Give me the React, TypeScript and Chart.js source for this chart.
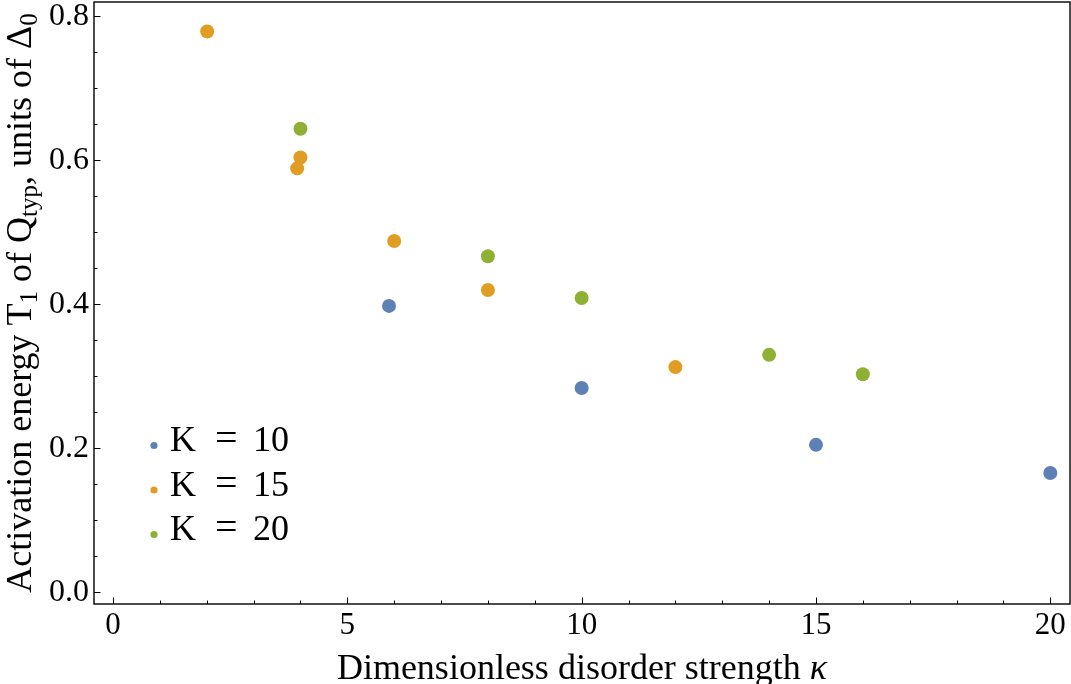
import { useEffect, useRef } from 'react';
import { Chart, registerables } from 'chart.js';

Chart.register(...registerables);

// K = 10
const kappaK10 = [5.89, 10, 15, 20];
const energyK10 = [0.398, 0.284, 0.205, 0.166];
// K = 15
const kappaK15 = [2.01, 3.93, 4.0, 6.0, 8.0, 12.0];
const energyK15 = [0.779, 0.589, 0.604, 0.488, 0.42, 0.313];
// K = 20
const kappaK20 = [4.0, 8.0, 10.0, 14.0, 16.0];
const energyK20 = [0.644, 0.467, 0.409, 0.33, 0.303];

const seriesLabels = ['K = 10', 'K = 15', 'K = 20'];
const seriesColors = ['#5E81B5', '#E19C24', '#8FB032'];

const xTicks = [0, 5, 10, 15, 20];
const yTicks = [0, 0.2, 0.4, 0.6, 0.8];
const xMinorStep = 1;
const yMinorStep = 0.05;

const SERIF = '"Liberation Serif", "Times New Roman", serif';

const toPoints = (xs: number[], ys: number[]) => xs.map((x, i) => ({ x, y: ys[i] }));

// frame, inward ticks, legend and axis titles (Mathematica look)
const framePlugin = {
    id: 'frameDecor',
    afterDraw(chart: any) {
        const { ctx, chartArea } = chart;
        const { left, right, top, bottom } = chartArea;
        const xs = chart.scales.x;
        const ys = chart.scales.y;
        ctx.save();

        // inward tick marks on left and bottom
        ctx.strokeStyle = '#000';
        ctx.lineWidth = 1;
        ctx.beginPath();
        for (let v = Math.ceil(xs.min); v <= xs.max; v += xMinorStep) {
            const px = Math.round(xs.getPixelForValue(v)) + 0.5;
            const len = xTicks.includes(v) ? 6.5 : 3.5;
            ctx.moveTo(px, bottom);
            ctx.lineTo(px, bottom - len);
        }
        for (let i = 0; i * yMinorStep <= ys.max + 1e-9; i++) {
            const v = i * yMinorStep;
            const py = Math.round(ys.getPixelForValue(v)) + 0.5;
            const len = i % 4 === 0 ? 6.5 : 3.5;
            ctx.moveTo(left, py);
            ctx.lineTo(left + len, py);
        }
        ctx.stroke();

        // frame
        ctx.lineWidth = 1.4;
        ctx.strokeRect(left, top, right - left, bottom - top);

        // legend
        chart.data.datasets.forEach((ds: any, i: number) => {
            const cy = 445.5 + i * 44.5;
            ctx.fillStyle = ds.backgroundColor;
            ctx.beginPath();
            ctx.arc(154, cy, 3.6, 0, Math.PI * 2);
            ctx.fill();
            ctx.fillStyle = '#000';
            ctx.textBaseline = 'alphabetic';
            ctx.textAlign = 'left';
            const parts = String(ds.label).split(' ');
            const offs = [0, 45, 83];
            parts.forEach((p: string, j: number) => {
                ctx.font = (p === '=' ? '40px ' : '36px ') + SERIF;
                ctx.fillText(p, 170 + offs[j], cy + 5.5);
            });
        });

        // x title
        ctx.fillStyle = '#000';
        ctx.textBaseline = 'alphabetic';
        ctx.textAlign = 'left';
        const xMain = 'Dimensionless disorder strength ';
        ctx.font = '36px ' + SERIF;
        const w1 = ctx.measureText(xMain).width;
        ctx.font = 'italic 36px ' + SERIF;
        const w2 = ctx.measureText('κ').width;
        const cx = (left + right) / 2;
        const sx = cx - (w1 + w2) / 2;
        ctx.font = '36px ' + SERIF;
        ctx.fillText(xMain, sx, 679);
        ctx.font = 'italic 36px ' + SERIF;
        ctx.fillText('κ', sx + w1, 679);

        // y title with subscripts
        const segs: [string, boolean][] = [
            ['Activation energy T', false],
            ['1', true],
            [' of Q', false],
            ['typ', true],
            [', units of Δ', false],
            ['0', true],
        ];
        const mainFont = '36px ' + SERIF;
        const subFont = '25px ' + SERIF;
        let total = 0;
        const widths = segs.map(([t, sub]) => {
            ctx.font = sub ? subFont : mainFont;
            const w = ctx.measureText(t).width;
            total += w;
            return w;
        });
        ctx.translate(31, (top + bottom) / 2);
        ctx.rotate(-Math.PI / 2);
        let lx = -total / 2;
        segs.forEach(([t, sub], i) => {
            ctx.font = sub ? subFont : mainFont;
            ctx.fillText(t, lx, sub ? 6 : 0);
            lx += widths[i];
        });

        ctx.restore();
    },
};

export default function App() {
    const canvasRef = useRef<HTMLCanvasElement | null>(null);
    const chartRef = useRef<Chart | null>(null);

    useEffect(() => {
        document.body.style.margin = '0';
        if (!canvasRef.current) return;
        const ctx = canvasRef.current.getContext('2d');
        if (!ctx) return;
        if (chartRef.current) chartRef.current.destroy();

        const series = [
            toPoints(kappaK10, energyK10),
            toPoints(kappaK15, energyK15),
            toPoints(kappaK20, energyK20),
        ];

        chartRef.current = new Chart(ctx, {
            type: 'scatter',
            data: {
                datasets: series.map((pts, i) => ({
                    label: seriesLabels[i],
                    data: pts,
                    backgroundColor: seriesColors[i],
                    borderColor: seriesColors[i],
                    pointRadius: 7,
                    pointBorderWidth: 0,
                    pointHoverRadius: 7,
                })),
            },
            options: {
                animation: false,
                responsive: false,
                devicePixelRatio: 1,
                layout: { autoPadding: false, padding: { top: 2, right: 1, left: 0, bottom: 0 } },
                plugins: {
                    legend: { display: false },
                    tooltip: { enabled: false },
                },
                scales: {
                    x: {
                        type: 'linear',
                        min: -0.405,
                        max: 20.42,
                        grid: { display: false, drawTicks: false },
                        border: { display: false },
                        afterBuildTicks: (scale: any) => {
                            scale.ticks = xTicks.map(v => ({ value: v }));
                        },
                        afterFit: (scale: any) => {
                            scale.height = 80;
                            scale.paddingLeft = 0;
                            scale.paddingRight = 0;
                        },
                        ticks: {
                            padding: 3,
                            color: '#000',
                            font: { family: SERIF, size: 31 },
                            maxRotation: 0,
                            callback: (v: any) => String(v),
                        },
                    },
                    y: {
                        type: 'linear',
                        min: -0.016,
                        max: 0.82,
                        grid: { display: false, drawTicks: false },
                        border: { display: false },
                        afterBuildTicks: (scale: any) => {
                            scale.ticks = yTicks.map(v => ({ value: v }));
                        },
                        afterFit: (scale: any) => {
                            scale.width = 94;
                            scale.paddingTop = 0;
                            scale.paddingBottom = 0;
                        },
                        ticks: {
                            padding: 5,
                            color: '#000',
                            font: { family: SERIF, size: 32 },
                            callback: (v: any) => Number(v).toFixed(1),
                        },
                    },
                },
            },
            plugins: [framePlugin],
        });

        return () => {
            if (chartRef.current) {
                chartRef.current.destroy();
                chartRef.current = null;
            }
        };
    }, []);

    return (
        <div style={{ width: 1071, height: 684, background: '#fff' }}>
            <canvas ref={canvasRef} width={1071} height={684} style={{ display: 'block' }}></canvas>
        </div>
    );
}
